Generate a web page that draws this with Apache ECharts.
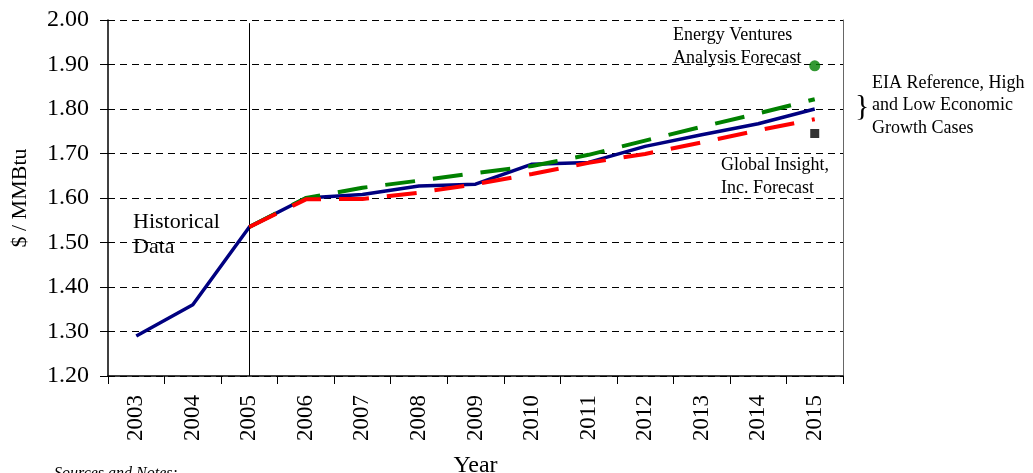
<!DOCTYPE html>
<html>
<head>
<meta charset="utf-8">
<script src="https://cdn.jsdelivr.net/npm/echarts@6/dist/echarts.min.js"></script>
<style>
  html, body { margin: 0; padding: 0; background: #fff; }
  #chart { width: 1033px; height: 473px; }
</style>
</head>
<body>
<div id="chart"></div>
<script>
// years on the x axis
const years = ['2003', '2004', '2005', '2006', '2007', '2008', '2009', '2010', '2011', '2012', '2013', '2014', '2015'];

// EIA reference case (history + forecast)
const eiaReference = [1.29, 1.36, 1.535, 1.60, 1.608, 1.627, 1.631, 1.676, 1.680, 1.716, 1.742, 1.767, 1.80];
// high and low economic growth cases, from 2005 on
const eiaHigh = [null, null, 1.535, 1.60, 1.623, 1.639, 1.656, 1.672, 1.697, 1.729, 1.760, 1.790, 1.822];
const eiaLow = [null, null, 1.535, 1.597, 1.598, 1.612, 1.631, 1.654, 1.679, 1.699, 1.725, 1.752, 1.777];

// single-point forecasts for 2015
const evaForecast = [['2015', 1.897]];
const globalInsightForecast = [['2015', 1.745]];

const font = 'Liberation Serif, Times New Roman, serif';

const chart = echarts.init(document.getElementById('chart'));

chart.setOption({
  backgroundColor: '#ffffff',
  animation: false,
  grid: { left: 108, right: 190, top: 20, bottom: 97, outerBoundsMode: 'none', containLabel: false },
  xAxis: {
    type: 'category',
    data: years,
    boundaryGap: true,
    name: 'Year',
    nameLocation: 'middle',
    nameGap: 78,
    nameTextStyle: { fontFamily: font, fontSize: 24, color: '#000' },
    axisLine: { lineStyle: { color: '#000', width: 1.5 } },
    axisTick: { show: true, alignWithLabel: false, length: 8, lineStyle: { color: '#000' } },
    axisLabel: { rotate: 90, fontFamily: font, fontSize: 23, color: '#000', margin: 19 },
    splitLine: { show: false }
  },
  yAxis: [
    {
      type: 'value',
      min: 1.2,
      max: 2.0,
      interval: 0.1,
      name: '$ / MMBtu',
      nameLocation: 'middle',
      nameRotate: 90,
      nameGap: 77,
      nameTextStyle: { fontFamily: font, fontSize: 22, color: '#000' },
      axisLine: { show: true, lineStyle: { color: '#000', width: 1.5 } },
      axisTick: { show: true, inside: false, length: 8, lineStyle: { color: '#000' } },
      axisLabel: { fontFamily: font, fontSize: 24, color: '#000', margin: 19, formatter: v => v.toFixed(2) },
      splitLine: { show: true, lineStyle: { color: '#000', type: [7, 5], width: 1 } }
    },
    {
      type: 'value',
      min: 1.2,
      max: 2.0,
      position: 'right',
      axisLine: { show: true, lineStyle: { color: '#666', width: 1 } },
      axisTick: { show: false },
      axisLabel: { show: false },
      splitLine: { show: false }
    }
  ],
  series: [
    {
      name: 'EIA Reference',
      type: 'line',
      data: eiaReference,
      symbol: 'none',
      lineStyle: { color: '#000080', width: 3.5 },
      z: 3,
      markLine: {
        silent: true,
        symbol: 'none',
        label: { show: false },
        lineStyle: { color: '#000', width: 1, type: 'solid' },
        data: [[{ xAxis: '2005', yAxis: 1.993 }, { xAxis: '2005', yAxis: 1.2 }]]
      }
    },
    {
      name: 'EIA High',
      type: 'line',
      data: eiaHigh,
      symbol: 'none',
      lineStyle: { color: '#008000', width: 4, type: [30, 18] },
      z: 4
    },
    {
      name: 'EIA Low',
      type: 'line',
      data: eiaLow,
      symbol: 'none',
      lineStyle: { color: '#ff0000', width: 4, type: [30, 18] },
      z: 5
    },
    {
      name: 'Energy Ventures Analysis Forecast',
      type: 'scatter',
      data: evaForecast,
      symbol: 'circle',
      symbolSize: 11,
      itemStyle: { color: '#008000' },
      z: 6
    },
    {
      name: 'Global Insight, Inc. Forecast',
      type: 'scatter',
      data: globalInsightForecast,
      symbol: 'rect',
      symbolSize: 9,
      itemStyle: { color: '#000' },
      z: 6
    }
  ],
  graphic: [
    {
      type: 'text', left: 133, top: 210,
      style: { text: 'Historical\nData', font: '22px ' + font, fill: '#000', lineHeight: 25 }
    },
    {
      type: 'text', left: 673, top: 24,
      style: { text: 'Energy Ventures\nAnalysis Forecast', font: '18px ' + font, fill: '#000', lineHeight: 23 }
    },
    {
      type: 'text', left: 721, top: 154,
      style: { text: 'Global Insight,\nInc. Forecast', font: '18px ' + font, fill: '#000', lineHeight: 23 }
    },
    {
      type: 'text', left: 872, top: 72,
      style: { text: 'EIA Reference, High\nand Low Economic\nGrowth Cases', font: '18px ' + font, fill: '#000', lineHeight: 22.5 }
    },
    {
      type: 'text', left: 855, top: 92,
      style: { text: '}', font: '30px ' + font, fill: '#000' }
    },
    {
      type: 'text', left: 54, top: 466,
      style: { text: 'Sources and Notes:', font: 'italic 16px ' + font, fill: '#000' }
    }
  ]
});
</script>
</body>
</html>
